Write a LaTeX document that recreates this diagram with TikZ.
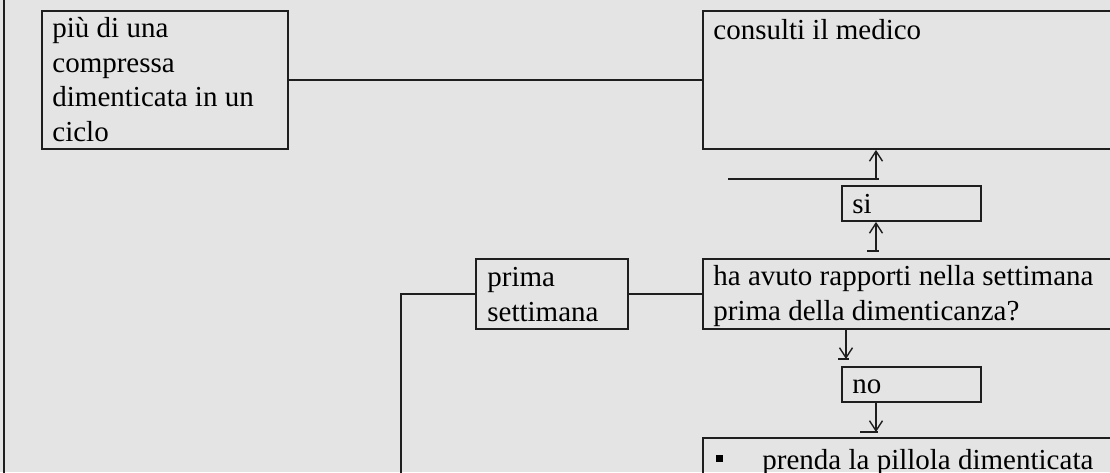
\documentclass[tikz,border=0pt]{standalone}
\usepackage{fontspec}
\setmainfont{Liberation Serif}
\usetikzlibrary{arrows.meta,fit}
\definecolor{bgc}{RGB}{228,228,228}
\definecolor{linec}{RGB}{30,30,30}
\begin{document}
\begin{tikzpicture}[x=0.5pt,y=-0.5pt,
  box/.style={draw=linec, line width=0.9pt, inner sep=0pt},
  txt/.style={font=\fontsize{14.5pt}{17.25pt}\selectfont, anchor=base west, inner sep=0pt, align=left, text=black},
  conn/.style={draw=linec, line width=0.8pt},
  arr/.style={draw=linec, line width=0.7pt, -{Straight Barb[length=5pt,width=6.5pt,line width=0.7pt]}},
  uline/.style={draw=linec, line width=1pt}]
\fill[bgc] (0,0) rectangle (1110,472);
\useasboundingbox (0,0) rectangle (1110,472);
% boxes
\node[box, fit={(42,11) (288,149)}] (b1) {};
\node[box, fit={(703,11) (1120,149)}] (med) {};
\node[box, fit={(842,186) (981,221)}] (si) {};
\node[box, fit={(703,259) (1120,329)}] (ha) {};
\node[box, fit={(476,259) (628,329)}] (prima) {};
\node[box, fit={(842,367) (981,402)}] (no) {};
\node[box, fit={(703,438) (1120,500)}] (prenda) {};
% texts (anchor = baseline of the last line)
\node[txt] (t1) at (52,141) {più di una\\compressa\\dimenticata in un\\ciclo};
\node[txt] (t2) at (713,39) {consulti il medico};
\node[txt] (t3) at (852,213) {si};
\node[txt] (t4) at (713,320) {ha avuto rapporti nella settimana\\prima della dimenticanza?};
\node[txt] (t5) at (487,321) {prima\\settimana};
\node[txt] (t6) at (852,393) {no};
\node[fill=black, inner sep=0pt, minimum size=3.5pt] (bul) at (719.5,458) {};
\node[txt] (t7) at (762,469) {prenda la pillola dimenticata};
% frame line on the left
\coordinate (lt) at (4,-5);
\coordinate (lb) at (4,480);
\draw[conn] (lt) -- (lb);
% connectors
\draw[conn] (b1.east) -- (med.west);
\draw[conn] (prima.east) -- (ha.west);
\coordinate (pb) at (401,480);
\draw[conn] (prima.west) -| (pb);
% arrow si -> consulti
\coordinate (a1s) at (876,179);
\coordinate (h1) at (728,179);
\coordinate (h1e) at (879,179);
\draw[conn] (h1) -- (h1e);
\draw[arr] (a1s) -- (a1s |- med.south);
% arrow ha -> si
\coordinate (a2s) at (876,251);
\coordinate (u2a) at (867,251);
\coordinate (u2b) at (879,251);
\draw[uline] (u2a) -- (u2b);
\draw[arr] (a2s) -- (a2s |- si.south);
% arrow ha -> no
\coordinate (a3e) at (846,359);
\coordinate (u3a) at (838,359);
\coordinate (u3b) at (849,359);
\draw[uline] (u3a) -- (u3b);
\draw[arr] (a3e |- ha.south) -- (a3e);
% arrow no -> prenda
\coordinate (a4e) at (876,432);
\coordinate (u4a) at (860,432);
\coordinate (u4b) at (878,432);
\draw[uline] (u4a) -- (u4b);
\draw[arr] (a4e |- no.south) -- (a4e);
\end{tikzpicture}
\end{document}
